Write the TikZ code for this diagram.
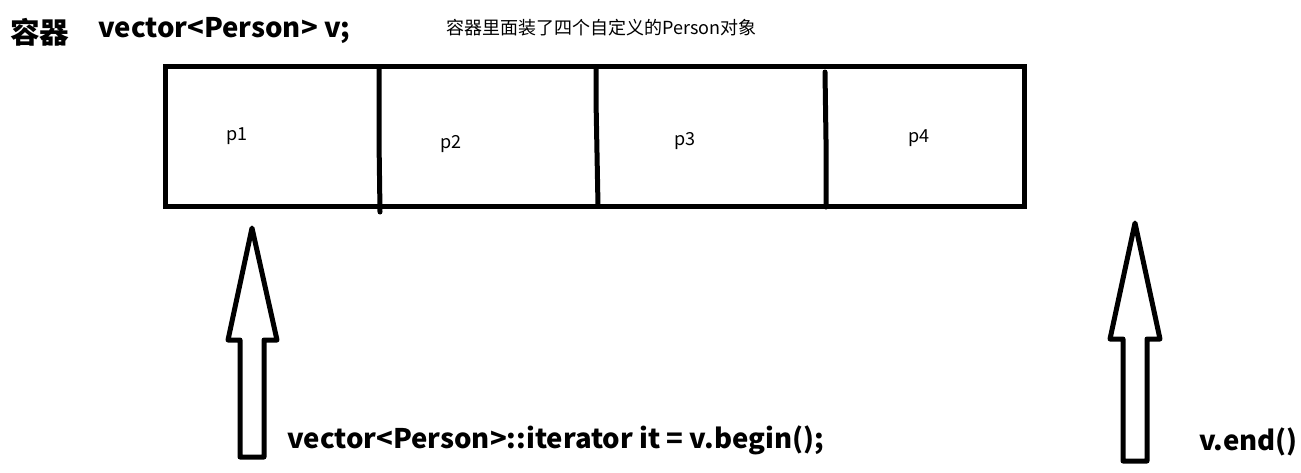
\documentclass[tikz,border=0pt]{standalone}
\usepackage{fontspec}
\setmainfont{Noto Sans CJK SC}
\newfontfamily\cjk{Noto Sans CJK SC}
\begin{document}
\begin{tikzpicture}[x=1pt,y=-1pt,
  thick line/.style={line width=5pt,line cap=round},
  outline/.style={line width=5pt,line join=round,fill=white},
  lbl/.style={inner sep=0pt,anchor=west,xscale=1.02,font=\cjk\bfseries\fontsize{27}{29}\selectfont},
  cell/.style={inner sep=0pt,font=\cjk\fontsize{18}{20}\selectfont},
  note/.style={inner sep=0pt,anchor=west,font=\cjk\fontsize{18}{20}\selectfont}]
\useasboundingbox[fill=white] (0,0) rectangle (1301,472);
% title texts
\node[lbl,font=\cjk\bfseries\fontsize{29}{31}\selectfont] (t1) at (10,32) {容器};
\node[lbl] (t2) at (98,31) {vector<Person> v;};
\node[note] (t3) at (446,28) {容器里面装了四个自定义的Person对象};
% container box
\draw[line width=5pt] (165,66) rectangle (1024,206);
\draw[thick line] (379,68) -- (379,140) -- (380,212);
\draw[thick line] (596,68) -- (596,100) -- (598,206);
\draw[thick line] (825,72) -- (826,140) -- (826,207);
% cell labels
\node[cell] (p1) at (237,136) {p1};
\node[cell] (p2) at (451,144) {p2};
\node[cell] (p3) at (685,141) {p3};
\node[cell] (p4) at (919,138) {p4};
% arrows
\draw[outline] (252,228) -- (277,340) -- (264,340) -- (264,457) -- (240,457) -- (240,340) -- (228,340) -- cycle;
\draw[outline] (1135,223) -- (1160,339) -- (1147,339) -- (1147,461) -- (1123,461) -- (1123,339) -- (1110,339) -- cycle;
% bottom labels
\node[lbl] (b1) at (287,440) {vector<Person>::iterator it = v.begin();};
\node[lbl] (b2) at (1199,442) {v.end()};
\end{tikzpicture}
\end{document}
